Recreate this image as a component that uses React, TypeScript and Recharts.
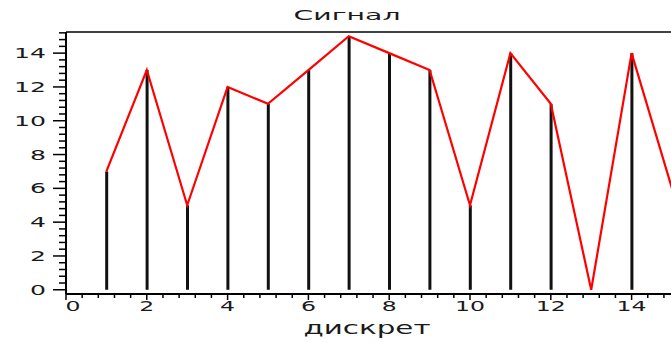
import { ComposedChart, Bar, Line, XAxis, YAxis, ReferenceLine } from 'recharts';

// sample index (x) and signal value
const samples = [1, 2, 3, 4, 5, 6, 7, 8, 9, 10, 11, 12, 13, 14, 15];
const signal = [7, 13, 5, 12, 11, 13, 15, 14, 13, 5, 14, 11, 0, 14, 6];
// stems are only drawn for the first 14 samples
const stems = signal.slice(0, 14);

const xMajor = [0, 2, 4, 6, 8, 10, 12, 14];
const yMajor = [0, 2, 4, 6, 8, 10, 12, 14];
const xTicks = Array.from({ length: 38 }, (_, i) => +(i * 0.4).toFixed(1));
const yTicks = Array.from({ length: 39 }, (_, i) => +(i * 0.4).toFixed(1));

const data = samples.map((n, i) => ({
  n,
  signal: signal[i],
  stem: i < stems.length ? stems[i] : null,
}));

const FONT = 'DejaVu Sans';
const INK = '#1a1a1a';

// Maple-ish wide lettering: stretch glyphs to a fixed width
function WideText({ x, y, text, size, width, anchor = 'middle' }: any) {
  return (
    <text
      x={x}
      y={y}
      fontFamily={FONT}
      fontSize={size}
      fill={INK}
      textAnchor={anchor}
      textLength={width}
      lengthAdjust="spacingAndGlyphs"
    >
      {text}
    </text>
  );
}

// built-in tick line gives the minor marks; majors get an extra bit + label
const YTick = (props: any) => {
  const { x, y, payload } = props;
  const v = payload.value;
  if (!yMajor.includes(v)) return <g />;
  const s = String(v);
  const w = 16 * s.length;
  return (
    <g>
      <line x1={x} x2={x - 6} y1={y} y2={y} stroke="#000" strokeWidth={1.5} />
      <WideText x={x - 13 - w} y={y + 5} text={s} size={14} width={w} anchor="start" />
    </g>
  );
};

const XTick = (props: any) => {
  const { x, y, payload } = props;
  const v = payload.value;
  if (!xMajor.includes(v)) return <g />;
  const s = String(v);
  return (
    <g>
      <line x1={x} x2={x} y1={y} y2={y + 2} stroke="#000" strokeWidth={1.5} />
      <WideText x={v === 0 ? x + 7 : x} y={y + 13} text={s} size={14} width={15 * s.length} />
    </g>
  );
};

const XLabel = (props: any) => {
  const { viewBox } = props;
  return <WideText x={viewBox.x + viewBox.width / 2 - 2} y={viewBox.y + 40} text="дискрет" size={17} width={127} />;
};

export default function App() {
  return (
    <div style={{ position: 'absolute', top: 0, left: 0, width: 671, height: 342, overflow: 'hidden', background: '#fff' }}>
      <svg width={671} height={30} style={{ position: 'absolute', top: 0, left: 0 }}>
        <WideText x={347} y={20} text="Сигнал" size={14} width={107} />
      </svg>
      <ComposedChart width={680} height={342} data={data} margin={{ top: 32, right: 8, bottom: 0, left: 0 }}>
        <XAxis
          dataKey="n"
          type="number"
          domain={[0, 15]}
          ticks={xTicks}
          interval={0}
          tickSize={4}
          tickMargin={0}
          tick={<XTick />}
          tickLine={{ stroke: '#000', strokeWidth: 1.5 }}
          axisLine={{ stroke: '#000', strokeWidth: 2 }}
          height={48}
          allowDataOverflow
          label={<XLabel />}
        />
        <YAxis
          type="number"
          domain={[-0.25, 15.25]}
          ticks={yTicks}
          interval={0}
          tickSize={7}
          tickMargin={0}
          tick={<YTick />}
          tickLine={{ stroke: '#000', strokeWidth: 1.5 }}
          axisLine={{ stroke: '#000', strokeWidth: 2 }}
          width={66}
          allowDataOverflow
        />
        <ReferenceLine y={15.25} stroke="#000" strokeWidth={1.5} />
        <Bar dataKey="stem" fill="#111" barSize={3} isAnimationActive={false} />
        <Line
          dataKey="signal"
          type="linear"
          stroke="#ff0000"
          strokeWidth={2.2}
          dot={false}
          activeDot={false}
          isAnimationActive={false}
        />
      </ComposedChart>
    </div>
  );
}
